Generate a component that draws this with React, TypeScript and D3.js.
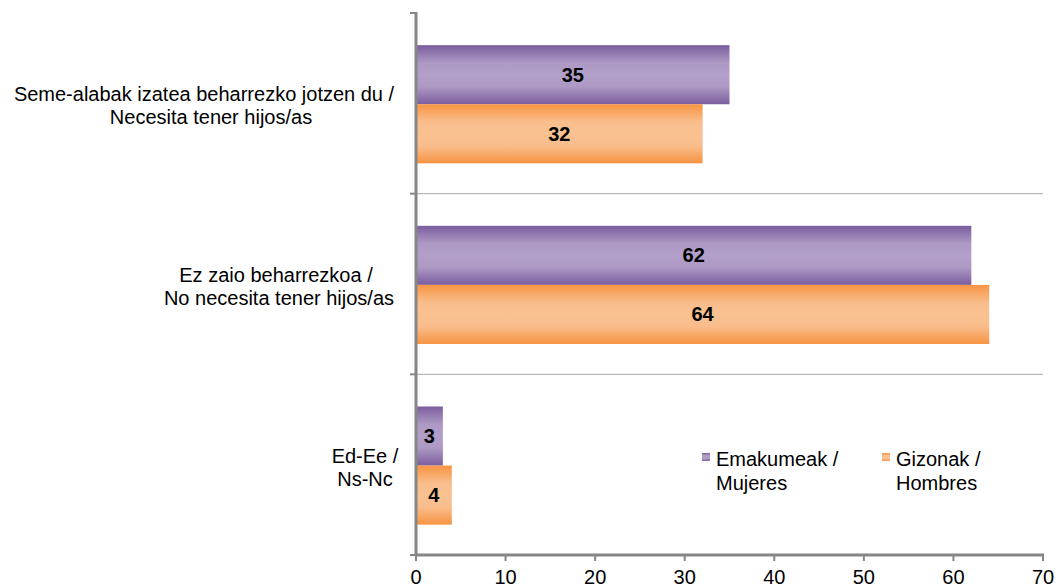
import React from "react";
import * as d3 from "d3";

const categories = [
  ["Seme-alabak izatea beharrezko jotzen du /", "Necesita tener hijos/as"],
  ["Ez zaio beharrezkoa /", "No necesita tener hijos/as"],
  ["Ed-Ee /", "Ns-Nc"],
];
const categoryKeys = ["c1", "c2", "c3"];
const emakumeak = [35, 62, 3];
const gizonak = [32, 64, 4];
const xTicks = [0, 10, 20, 30, 40, 50, 60, 70];
const seriesNames = [["Emakumeak /", "Mujeres"], ["Gizonak /", "Hombres"]];

// layout (label line centers per category)
const labelCenters = [
  [204, 211],
  [276, 279],
  [365, 365],
];

const W = 1057;
const H = 587;
const FONT = "'Liberation Sans', Arial, sans-serif";
const FS = 20;

export default function App() {
  const x = d3.scaleLinear().domain([0, 70]).range([416, 1043]);
  const y = d3.scaleBand().domain(categoryKeys).range([13, 555]).paddingInner(0).paddingOuter(0);
  const bw = y.bandwidth();
  const barH = bw * 0.327;
  const barOff = bw * 0.178;
  const series = [
    { values: emakumeak, grad: "gPurple" },
    { values: gizonak, grad: "gOrange" },
  ];
  const axisColor = "#868686";
  const boundaries = categoryKeys.map((k) => (y(k) as number) + bw);

  return (
    <svg width={W} height={H} style={{ position: "absolute", left: 0, top: 0, fontFamily: FONT }}>
      <defs>
        <linearGradient id="gPurple" x1="0" y1="0" x2="0" y2="1">
          <stop offset="0" stopColor="#7b5e9e" />
          <stop offset="0.3" stopColor="#ad99c4" />
          <stop offset="0.5" stopColor="#b3a0ca" />
          <stop offset="0.7" stopColor="#ad99c4" />
          <stop offset="1" stopColor="#7b5e9e" />
        </linearGradient>
        <linearGradient id="gOrange" x1="0" y1="0" x2="0" y2="1">
          <stop offset="0" stopColor="#f79443" />
          <stop offset="0.3" stopColor="#f9bd8c" />
          <stop offset="0.5" stopColor="#fac291" />
          <stop offset="0.7" stopColor="#f9bd8c" />
          <stop offset="1" stopColor="#f79443" />
        </linearGradient>
      </defs>
      <rect width={W} height={H} fill="#ffffff" />

      {/* category separators */}
      {boundaries.slice(0, -1).map((yy, i) => (
        <line key={i} x1={x(0)} x2={x(70)} y1={yy} y2={yy} stroke="#a6a6a6" strokeWidth={1} />
      ))}

      {/* bars */}
      {categoryKeys.map((k, ci) =>
        series.map((s, si) => {
          const y0 = (y(k) as number) + barOff + si * barH;
          const v = s.values[ci];
          return (
            <g key={k + si}>
              <rect x={x(0)} y={y0} width={x(v) - x(0)} height={barH} fill={`url(#${s.grad})`} />
              <text
                x={(x(0) + x(v)) / 2}
                y={y0 + barH / 2}
                dy="0.35em"
                textAnchor="middle"
                fontSize={FS}
                fontWeight="bold"
                fill="#000"
              >
                {v}
              </text>
            </g>
          );
        })
      )}

      {/* vertical axis */}
      <line x1={x(0)} x2={x(0)} y1={12} y2={555} stroke={axisColor} strokeWidth={3} />
      {[13, ...boundaries].map((yy, i) => (
        <line key={i} x1={410} x2={x(0)} y1={yy} y2={yy} stroke={axisColor} strokeWidth={2} />
      ))}

      {/* horizontal axis */}
      <line x1={x(0) - 1} x2={x(70) + 1} y1={555} y2={555} stroke={axisColor} strokeWidth={3} />
      {xTicks.map((t) => (
        <g key={t}>
          <line x1={x(t)} x2={x(t)} y1={555} y2={561} stroke={axisColor} strokeWidth={2} />
          <text x={x(t)} y={584} textAnchor="middle" fontSize={FS} fill="#000">
            {t}
          </text>
        </g>
      ))}

      {/* category labels */}
      {categoryKeys.map((k, ci) => {
        const c = (y(k) as number) + bw / 2;
        return (
          <g key={k}>
            {categories[ci].map((line, li) => (
              <text
                key={li}
                x={labelCenters[ci][li]}
                y={c - 2 + li * 23}
                textAnchor="middle"
                fontSize={FS}
                fill="#000"
              >
                {line}
              </text>
            ))}
          </g>
        );
      })}

      {/* legend */}
      {seriesNames.map((nm, i) => {
        const lx = [702, 882][i];
        return (
          <g key={i}>
            <rect x={lx} y={453} width={8} height={8} fill={`url(#${series[i].grad})`} />
            {nm.map((line, li) => (
              <text key={li} x={lx + 14} y={466 + li * 24} fontSize={FS} fill="#000">
                {line}
              </text>
            ))}
          </g>
        );
      })}
    </svg>
  );
}
